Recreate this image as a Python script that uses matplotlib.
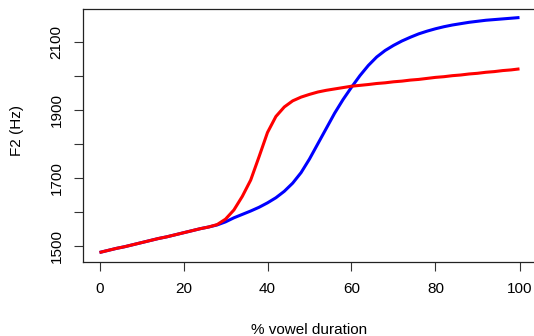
import matplotlib
matplotlib.use("Agg")
import matplotlib.pyplot as plt

plt.rcParams['font.family'] = ['Liberation Sans', 'DejaVu Sans']

x = [0, 2, 4, 6, 8, 10, 12, 14, 16, 18, 20, 22, 24, 26, 28, 30, 32, 34, 36, 38,
     40, 42, 44, 46, 48, 50, 52, 54, 56, 58, 60, 62, 64, 66, 68, 70, 72, 74, 76,
     78, 80, 82, 84, 86, 88, 90, 92, 94, 96, 98, 100]

blue_f2 = [1480, 1486, 1492, 1497, 1503, 1509, 1515, 1521, 1526, 1532, 1538,
           1544, 1550, 1555, 1561, 1570, 1582, 1592, 1602, 1613, 1626, 1641,
           1660, 1684, 1715, 1755, 1800, 1845, 1890, 1930, 1966, 2000, 2030,
           2055, 2074, 2089, 2102, 2113, 2123, 2131, 2138, 2144, 2149, 2153,
           2157, 2160, 2163, 2165, 2167, 2169, 2171]

red_f2 = [1480, 1486, 1492, 1497, 1503, 1509, 1515, 1521, 1526, 1532, 1538,
          1544, 1550, 1555, 1562, 1578, 1605, 1645, 1693, 1762, 1833, 1880,
          1908, 1926, 1937, 1945, 1952, 1957, 1961, 1965, 1969, 1971.5, 1974,
          1977, 1979, 1982, 1984, 1987, 1989, 1992, 1995, 1997, 2000, 2002,
          2005, 2007, 2010, 2012, 2015, 2017, 2020]

x_ticks = [0, 20, 40, 60, 80, 100]
y_ticks = [1500, 1600, 1700, 1800, 1900, 2000, 2100]
y_tick_labels = ['1500', '', '1700', '', '1900', '', '2100']

W, H = 534, 336
fig = plt.figure(figsize=(W / 100, H / 100), dpi=100)
ax = fig.add_axes([82.7 / W, 74 / H, 453.6 / W, 253.3 / H])

ax.plot(x, blue_f2, color='#0000FF', lw=2.2, solid_capstyle='butt')
ax.plot(x, red_f2, color='#FF0000', lw=2.2, solid_capstyle='butt')

ax.set_xlim(-4, 104)
ymin, ymax = 1479.6, 2169.4
r = ymax - ymin
ax.set_ylim(ymin - 0.04 * r, ymax + 0.04 * r)

ax.set_xticks(x_ticks)
ax.set_xticklabels([str(v) for v in x_ticks])
ax.set_yticks(y_ticks)
ax.set_yticklabels(y_tick_labels, rotation=90, va='center')

ax.tick_params(axis='both', direction='out', length=6.5, width=0.8,
               color='#333333', labelsize=11)
ax.tick_params(axis='x', pad=8.2)
ax.tick_params(axis='y', pad=7.2)
for s in ax.spines.values():
    s.set_linewidth(0.9)
    s.set_color('#222222')

fig.text(308.7 / W, (H - 334.5) / H, '% vowel duration', fontsize=11,
         ha='center', va='baseline')
fig.text(17.5 / W, (H - 131) / H, 'F2 (Hz)', fontsize=11, rotation=90,
         ha='center', va='center')

fig.savefig('out.png', dpi=100)
